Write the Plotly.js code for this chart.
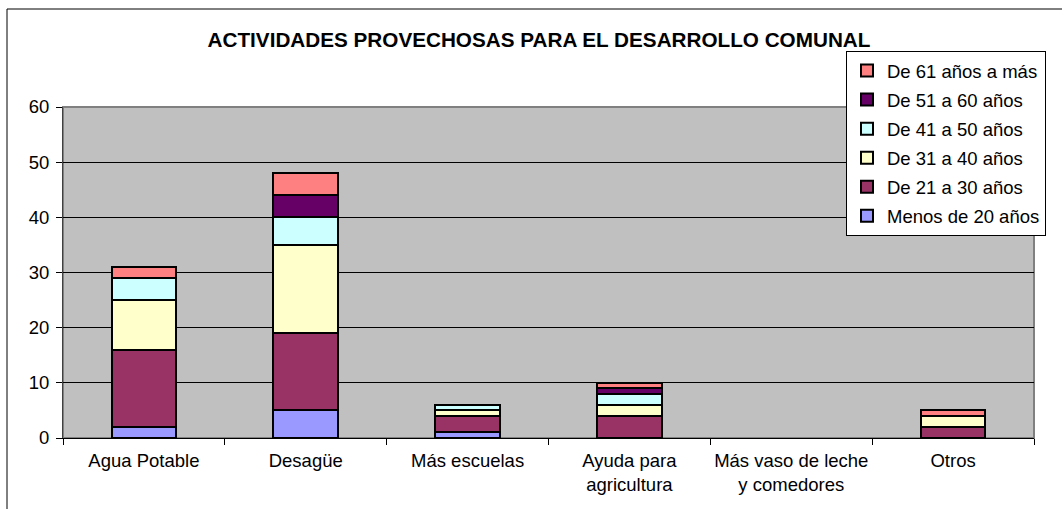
<!DOCTYPE html>
<html>
<head>
<meta charset="utf-8">
<script src="https://cdn.plot.ly/plotly-3.0.1.min.js"></script>
<style>
html,body{margin:0;padding:0;background:#fff;}
#chart{width:1062px;height:509px;}
</style>
</head>
<body>
<div id="chart"></div>
<script>
const categories = ["Agua Potable", "Desagüe", "Más escuelas", "Ayuda para<br>agricultura", "Más vaso de leche<br>y comedores", "Otros"];
const seriesNames = ["Menos de 20 años", "De 21 a 30 años", "De 31 a 40 años", "De 41 a 50 años", "De 51 a 60 años", "De 61 años a más"];
const menos20 = [2, 5, 1, 0, 0, 0];
const de21a30 = [14, 14, 3, 4, 0, 2];
const de31a40 = [9, 16, 1, 2, 0, 2];
const de41a50 = [4, 5, 1, 2, 0, 0];
const de51a60 = [0, 4, 0, 1, 0, 0];
const de61mas = [2, 4, 0, 1, 0, 1];
const seriesValues = [menos20, de21a30, de31a40, de41a50, de51a60, de61mas];
const colors = ["#9999FF", "#993366", "#FFFFCC", "#CCFFFF", "#660066", "#FF8080"];

const traces = seriesNames.map((name, i) => ({
  type: "bar",
  name: name,
  legendgroup: "g" + i,
  legendrank: 100 - i,
  x: categories,
  // zero-height segments are left undrawn (as in the source chart)
  y: seriesValues[i].map(v => v === 0 ? null : v),
  width: 0.4,
  marker: {color: colors[i], line: {color: "#000000", width: 2}},
  hoverinfo: "x+y+name"
}));

const font = {family: "Liberation Sans, Arial, sans-serif", size: 18.5, color: "#000000"};

const layout = {
  width: 1062, height: 509,
  margin: {l: 63, r: 28, t: 107, b: 71, pad: 0},
  paper_bgcolor: "#FFFFFF",
  plot_bgcolor: "#C0C0C0",
  barmode: "stack",
  font: font,
  showlegend: true,
  title: {
    text: "<b>ACTIVIDADES PROVECHOSAS PARA EL DESARROLLO COMUNAL</b>",
    font: {family: "Liberation Sans, Arial, sans-serif", size: 20.7, color: "#000000"},
    x: (539 - 63) / 971, xref: "paper", xanchor: "center",
    y: 1 - 40/509, yref: "container", yanchor: "middle"
  },
  xaxis: {
    type: "category",
    tickson: "boundaries",
    tickangle: 0,
    ticks: "outside", ticklen: 6, tickcolor: "#000000", tickwidth: 1,
    ticklabelstandoff: 6,
    showline: true, linecolor: "#000000", linewidth: 1,
    showgrid: false, zeroline: false,
    tickfont: font,
    fixedrange: true
  },
  yaxis: {
    range: [0, 60], dtick: 10, tick0: 0,
    ticks: "outside", ticklen: 6, tickcolor: "#000000", tickwidth: 1,
    ticklabelstandoff: 3,
    showline: true, linecolor: "#404040", linewidth: 1,
    showgrid: true, gridcolor: "#000000", gridwidth: 1,
    zeroline: false,
    tickfont: font,
    fixedrange: true
  },
  legend: {
    traceorder: "grouped",
    tracegroupgap: 2,
    x: (846 - 63) / 971, xanchor: "left",
    y: (438 - 51) / 331, yanchor: "top",
    bgcolor: "#FFFFFF", bordercolor: "#000000", borderwidth: 1,
    font: font,
    itemwidth: 30
  },
  shapes: [
    {type: "rect", xref: "paper", yref: "paper", x0: 0, x1: 1, y0: 0, y1: 1,
     line: {color: "#808080", width: 2}, fillcolor: "rgba(0,0,0,0)", layer: "below"},
    {type: "rect", xref: "paper", yref: "paper",
     x0: (7 - 63) / 971, x1: (1080 - 63) / 971,
     y0: (438 - 530) / 331, y1: (438 - 9) / 331,
     line: {color: "#000000", width: 1}, fillcolor: "rgba(0,0,0,0)"}
  ]
};

Plotly.newPlot("chart", traces, layout, {displayModeBar: false, staticPlot: true});
</script>
</body>
</html>
